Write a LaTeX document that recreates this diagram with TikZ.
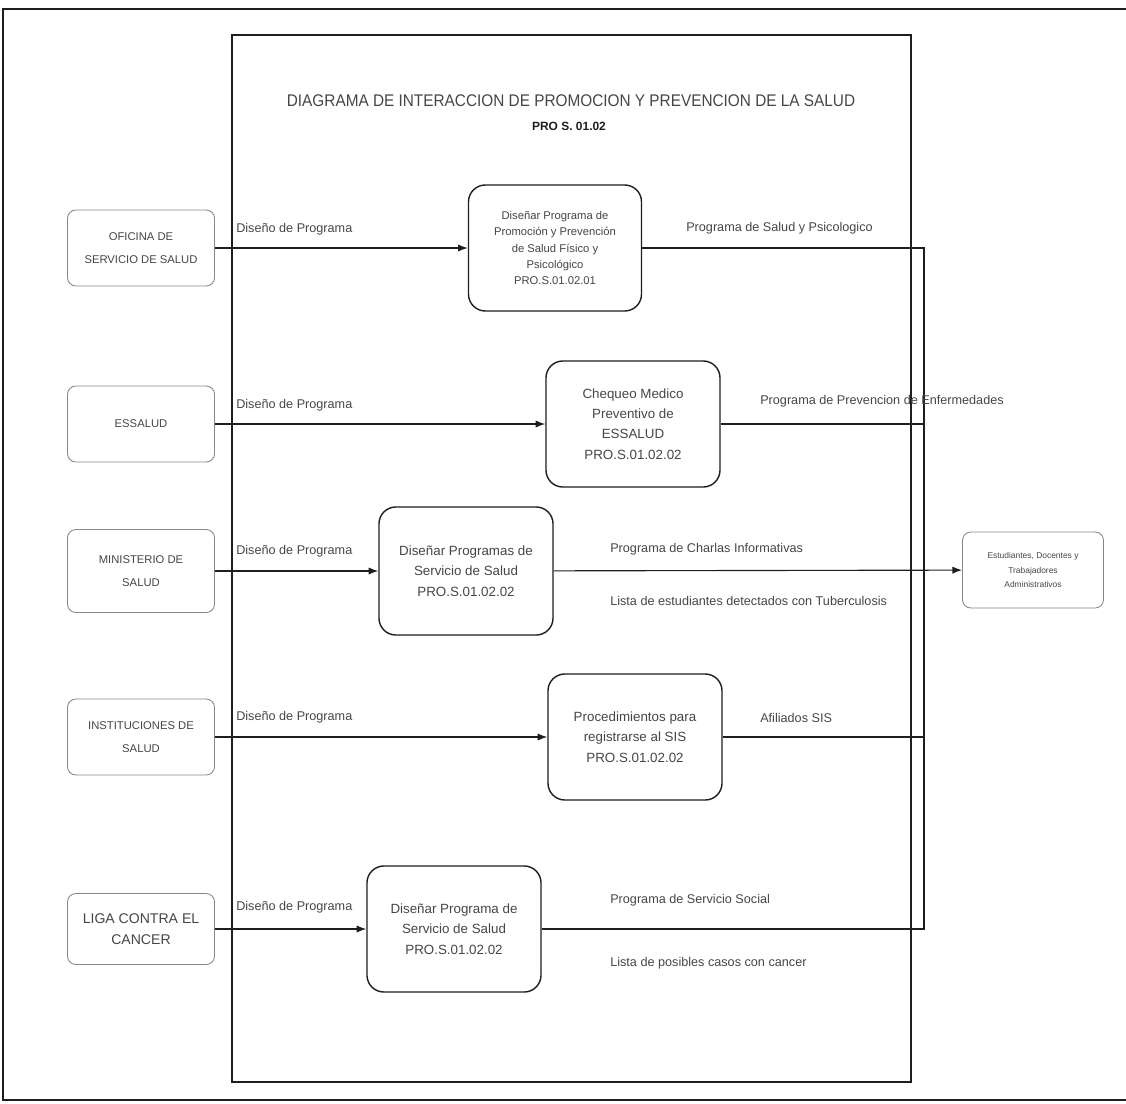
\documentclass[tikz,border=0pt]{standalone}
\usepackage{fontspec}
\setmainfont{Liberation Sans}
\newfontfamily\narrowsans[FakeStretch=0.91]{Liberation Sans}
\usetikzlibrary{arrows.meta,positioning}
\definecolor{PsInk}{RGB}{30,30,30}
\definecolor{PsText}{RGB}{70,70,70}
\definecolor{PsSoft}{RGB}{135,135,135}
\tikzset{
  ps/frame/.style={draw=PsInk, line width=1.3pt},
  ps/actor/.style={
    draw=PsSoft,
    line width=0.6pt,
    rounded corners=6pt,
    fill=white,
    align=center,
    text=PsText,
    minimum width=3.675cm,
    minimum height=1.9cm,
    inner sep=2pt,
    font=\fontsize{8}{16}\selectfont
  },
  ps/proc/.style={
    draw=PsInk,
    line width=1pt,
    rounded corners=12pt,
    fill=white,
    align=center,
    text=PsText,
    minimum width=4.35cm,
    minimum height=3.15cm,
    inner sep=2pt,
    font=\fontsize{9.5}{14.5}\selectfont
  },
  ps/flow/.style={draw=PsInk, line width=0.8pt},
  ps/arrow/.style={ps/flow, -{Latex[length=2.4mm,width=1.8mm]}},
  ps/label/.style={anchor=west, inner sep=0pt, text=PsText, font=\fontsize{9}{11}\selectfont},
  ps/title/.style={font=\narrowsans\fontsize{12}{14}\selectfont, text=PsText},
  ps/code/.style={font=\bfseries\fontsize{8.5}{10}\selectfont, text=PsInk}
}
\begin{document}
\begin{tikzpicture}[x=0.025cm,y=-0.025cm]
  \useasboundingbox (0,0) rectangle (1126,1104);
  \draw[ps/frame] (1126,9) -- (3,9) -- (3,1100) -- (1126,1100);
  \draw[ps/frame] (232,35) rectangle (911,1082);

  \node[ps/title] (title) at (571,101) {DIAGRAMA DE INTERACCION DE PROMOCION Y PREVENCION DE LA SALUD};
  \node[ps/code] (code) at (569,126) {PRO S. 01.02};

  % external entities
  \node[ps/actor] (oficina) at (141,248) {OFICINA DE\\SERVICIO DE SALUD};
  \node[ps/actor] (essalud) at (141,424) {ESSALUD};
  \node[ps/actor, minimum height=2.075cm] (minsa) at (141,571) {MINISTERIO DE\\SALUD};
  \node[ps/actor] (inst) at (141,737) {INSTITUCIONES DE\\SALUD};
  \node[ps/actor, minimum height=1.775cm, font=\fontsize{10}{15}\selectfont] (liga) at (141,929) {LIGA CONTRA EL\\CANCER};
  \node[ps/actor, minimum width=3.525cm, font=\fontsize{6}{10}\selectfont] (comunidad) at (1033,570)
    {Estudiantes, Docentes y\\Trabajadores\\Administrativos};

  % processes
  \node[ps/proc, minimum width=4.325cm, font=\fontsize{8}{11.5}\selectfont] (p1) at (555,248)
    {Diseñar Programa de\\Promoción y Prevención\\de Salud Físico y\\Psicológico\\PRO.S.01.02.01};
  \node[ps/proc] (p2) at (633,424) {Chequeo Medico\\Preventivo de\\ESSALUD\\PRO.S.01.02.02};
  \node[ps/proc, minimum height=3.2cm] (p3) at (466,571) {Diseñar Programas de\\Servicio de Salud\\PRO.S.01.02.02};
  \node[ps/proc] (p4) at (635,737) {Procedimientos para\\registrarse al SIS\\PRO.S.01.02.02};
  \node[ps/proc] (p5) at (454,929) {Diseñar Programa de\\Servicio de Salud\\PRO.S.01.02.02};

  % inputs
  \draw[ps/arrow] (oficina) -- (p1);
  \draw[ps/arrow] (essalud) -- (p2);
  \draw[ps/arrow] (minsa) -- (p3);
  \draw[ps/arrow] (inst) -- (p4);
  \draw[ps/arrow] (liga) -- (p5);
  \foreach \y in {229,405,551,717,907}
    \node[ps/label] at (236,\y) {Diseño de Programa};

  % outputs, joined on the right
  \coordinate (busTop) at (924,248);
  \coordinate (busEnd) at (924,929);
  \draw[ps/flow] (p1.east) -- (busTop) -- (busEnd) -- (p5.east);
  \draw[ps/flow] (p2.east) -- (p2.east -| busTop);
  \draw[ps/flow] (p4.east) -- (p4.east -| busTop);
  \draw[ps/arrow] (p3) -- (comunidad);

  \node[ps/label] (o1) at (686,228) {Programa de Salud y Psicologico};
  \node[ps/label] (o2) at (760,401) {Programa de Prevencion de Enfermedades};
  \node[ps/label] (o3) at (610,549) {Programa de Charlas Informativas};
  \node[ps/label] (o4) at (610,601) {Lista de estudiantes detectados con Tuberculosis};
  \node[ps/label] (o5) at (760,718) {Afiliados SIS};
  \node[ps/label] (o6) at (610,900) {Programa de Servicio Social};
  \node[ps/label] (o7) at (610,963) {Lista de posibles casos con cancer};
\end{tikzpicture}
\end{document}
